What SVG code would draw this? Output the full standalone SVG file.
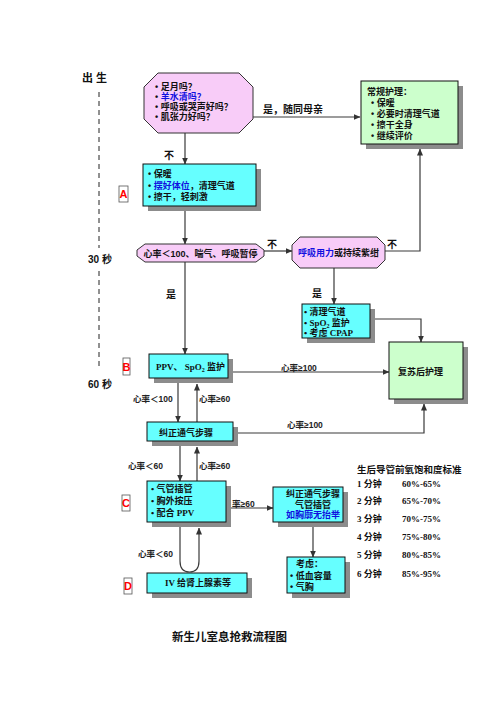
<svg xmlns="http://www.w3.org/2000/svg" width="496" height="702" viewBox="0 0 496 702">
<defs>
<marker id="ah" markerUnits="userSpaceOnUse" markerWidth="7" markerHeight="6" refX="6.5" refY="3" orient="auto">
<path d="M0,0 L7,3 L0,6 Z" fill="#333"/>
</marker>
<style>
.t{font-family:"Liberation Sans","Noto Sans CJK SC",sans-serif;font-weight:bold;font-size:9px;fill:#111}
.s{font-family:"Liberation Serif","Noto Sans CJK SC",serif;font-weight:bold;font-size:9px;fill:#111}
.l{font-family:"Liberation Sans","Noto Sans CJK SC",sans-serif;font-weight:bold;font-size:8.5px;fill:#222}
.blue{fill:#1010E0}
.sh{fill:#8c8c8c}
.cy{fill:#66FFFF;stroke:#111;stroke-width:1}
.gr{fill:#CCFFCC;stroke:#111;stroke-width:1}
.pk{fill:#F8CCF8;stroke:#333;stroke-width:1;stroke-linejoin:round}
.ln{fill:none;stroke:#3a3a3a;stroke-width:1.2}
.lb{fill:#fff;stroke:#555;stroke-width:0.8}
.lt{font-family:"Liberation Sans",sans-serif;font-weight:bold;font-size:11px;fill:#FF0000}
</style>
</defs>
<rect width="496" height="702" fill="#fff"/>

<!-- timeline -->
<g id="timeline">
<text x="82" y="82" class="t" style="font-size:11px">出 生</text>
<line x1="99" y1="92" x2="99" y2="248" stroke="#222" stroke-width="1" stroke-dasharray="5,4"/>
<text x="88" y="263" class="t" style="font-size:10px">30 秒</text>
<line x1="99" y1="271" x2="99" y2="366" stroke="#222" stroke-width="1" stroke-dasharray="5,4"/>
<text x="88" y="388" class="t" style="font-size:10px">60 秒</text>
</g>

<g id="labels">
<rect x="119" y="186" width="9" height="16" class="lb"/><text x="123.5" y="198" class="lt" text-anchor="middle">A</text>
<rect x="123" y="358" width="7" height="17" class="lb"/><text x="126.5" y="370.5" class="lt" text-anchor="middle">B</text>
<rect x="122" y="495" width="8" height="16" class="lb"/><text x="126" y="507" class="lt" text-anchor="middle">C</text>
<rect x="124" y="578" width="8" height="16" class="lb"/><text x="128" y="590" class="lt" text-anchor="middle">D</text>
</g>

<!-- connectors -->
<g id="connectors">
<path class="ln" d="M185,133 V164" marker-end="url(#ah)"/>
<path class="ln" d="M253,117 H360" marker-end="url(#ah)"/>
<path class="ln" d="M185,211 V244" marker-end="url(#ah)"/>
<path class="ln" d="M185,262 V354" marker-end="url(#ah)"/>
<path class="ln" d="M264,251 H292" marker-end="url(#ah)"/>
<path class="ln" d="M385,251 H420 V149" marker-end="url(#ah)"/>
<path class="ln" d="M334,268 V304" marker-end="url(#ah)"/>
<path class="ln" d="M373,319 H421 V342" marker-end="url(#ah)"/>
<path class="ln" d="M233,372 H389" marker-end="url(#ah)"/>
<path class="ln" d="M178,383 V422" marker-end="url(#ah)"/>
<path class="ln" d="M197,422 V384" marker-end="url(#ah)"/>
<path class="ln" d="M238,433 H424 V404" marker-end="url(#ah)"/>
<path class="ln" d="M180,446 V481" marker-end="url(#ah)"/>
<path class="ln" d="M197,481 V447" marker-end="url(#ah)"/>
<path class="ln" d="M231,508 H273" marker-end="url(#ah)"/>
<path class="ln" d="M313,527 V557" marker-end="url(#ah)"/>
<path class="ln" d="M180,527 V561 Q180,572 189.5,572 Q199,572 199,561 V528" marker-end="url(#ah)"/>
<text x="263" y="113" class="t" style="font-size:10px">是，随同母亲</text>
<text x="164" y="159" class="t" style="font-size:10px">不</text>
<text x="267" y="248" class="t" style="font-size:10px">不</text>
<text x="387" y="248" class="t" style="font-size:10px">不</text>
<text x="166" y="298" class="t" style="font-size:10px">是</text>
<text x="312" y="297" class="t" style="font-size:10px">是</text>
<text x="281" y="371" class="l">心率≥100</text>
<text x="133" y="402" class="l">心率＜100</text>
<text x="199" y="402" class="l">心率≥60</text>
<text x="287" y="428" class="l">心率≥100</text>
<text x="128" y="469" class="l">心率＜60</text>
<text x="199" y="469" class="l">心率≥60</text>
<text x="232" y="507" class="l">率≥60</text>
<text x="138" y="557" class="l">心率＜60</text>
</g>

<g id="assess">
<path class="pk" d="M158,73 H239 L253,87 V119 L239,133 H158 L144,119 V87 Z"/>
<text x="155" y="89.5" class="t">• 足月吗？</text>
<text x="155" y="99.8" class="t">• <tspan class="blue">羊水清吗？</tspan></text>
<text x="155" y="110.1" class="t">• 呼吸或哭声好吗？</text>
<text x="155" y="120.4" class="t">• 肌张力好吗？</text>
</g>

<g id="routine">
<rect x="366" y="86" width="97" height="63" class="sh"/>
<rect x="361" y="81" width="97" height="63" class="gr"/>
<text x="367" y="94.5" class="t">常规护理：</text>
<text x="371" y="105.5" class="t">• 保暖</text>
<text x="371" y="116.5" class="t">• 必要时清理气道</text>
<text x="371" y="127.5" class="t">• 擦干全身</text>
<text x="371" y="139" class="t">• 继续评价</text>
</g>

<g id="stepA">
<rect x="148" y="169" width="113" height="42" class="sh"/>
<rect x="143" y="164" width="113" height="42" class="cy"/>
<text x="148" y="176.5" class="t">• 保暖</text>
<text x="148" y="188.5" class="t">• <tspan class="blue">摆好体位</tspan>，清理气道</text>
<text x="148" y="199.5" class="t">• 擦干，轻刺激</text>
</g>

<g id="hr100">
<path class="pk" d="M145,244 H256 L264,250 V256 L256,262 H145 L137,256 V250 Z"/>
<text x="200.5" y="256.5" class="t" text-anchor="middle">心率＜100、喘气、呼吸暂停</text>
</g>

<g id="laboured">
<path class="pk" d="M300,237 H377 L385,245 V260 L377,268 H300 L292,260 V245 Z"/>
<text x="338.5" y="256" class="t" text-anchor="middle"><tspan class="blue">呼吸用力</tspan>或持续紫绀</text>
</g>

<g id="cpap">
<rect x="307" y="309" width="68" height="34" class="sh"/>
<rect x="302" y="304" width="68" height="34" class="cy"/>
<text x="304" y="315" class="s">• 清理气道</text>
<text x="304" y="325.5" class="s">• SpO<tspan font-size="6" dy="2">2</tspan><tspan dy="-2"> 监护</tspan></text>
<text x="304" y="335.5" class="s">• 考虑 CPAP</text>
</g>

<g id="stepB">
<rect x="154" y="359" width="79" height="24" class="sh"/>
<rect x="149" y="354" width="79" height="24" class="cy"/>
<text x="156" y="369.5" class="s">PPV、 SpO<tspan font-size="6" dy="2">2</tspan><tspan dy="-2"> 监护</tspan></text>
</g>

<g id="postcare">
<rect x="394" y="347" width="74" height="57" class="sh"/>
<rect x="389" y="342" width="74" height="57" class="gr"/>
<text x="398" y="374.5" class="t">复苏后护理</text>
</g>

<g id="correct">
<rect x="152" y="427" width="86" height="19" class="sh"/>
<rect x="147" y="422" width="86" height="19" class="cy"/>
<text x="186" y="435.5" class="t" text-anchor="middle">纠正通气步骤</text>
</g>

<g id="stepC">
<rect x="152" y="486" width="79" height="41" class="sh"/>
<rect x="147" y="481" width="79" height="41" class="cy"/>
<text x="151" y="491.5" class="s">• 气管插管</text>
<text x="151" y="503.5" class="s">• 胸外按压</text>
<text x="151" y="516" class="s">• 配合 PPV</text>
</g>

<g id="correct2">
<rect x="278" y="492" width="70" height="35" class="sh"/>
<rect x="273" y="487" width="70" height="35" class="cy"/>
<text x="313" y="496.5" class="t" text-anchor="middle">纠正通气步骤</text>
<text x="313" y="507.5" class="t" text-anchor="middle">气管插管</text>
<text x="313" y="518" class="t blue" text-anchor="middle">如胸廓无抬举</text>
</g>

<g id="consider">
<rect x="292" y="562" width="58" height="36" class="sh"/>
<rect x="287" y="557" width="58" height="36" class="cy"/>
<text x="296" y="566.5" class="t">考虑：</text>
<text x="290" y="578.5" class="t">• 低血容量</text>
<text x="290" y="590" class="t">• 气胸</text>
</g>

<g id="stepD">
<rect x="152" y="578" width="100" height="20" class="sh"/>
<rect x="147" y="573" width="100" height="20" class="cy"/>
<text x="198" y="586" class="s" text-anchor="middle">IV 给肾上腺素等</text>
</g>

<g id="spo2table">
<text x="357" y="472.5" class="t" style="font-size:9.5px">生后导管前氧饱和度标准</text>
<text x="357" y="486.5" class="s">1 分钟</text><text x="402" y="486.5" class="s">60%-65%</text>
<text x="357" y="503.5" class="s">2 分钟</text><text x="402" y="503.5" class="s">65%-70%</text>
<text x="357" y="521.5" class="s">3 分钟</text><text x="402" y="521.5" class="s">70%-75%</text>
<text x="357" y="539.5" class="s">4 分钟</text><text x="402" y="539.5" class="s">75%-80%</text>
<text x="357" y="557.5" class="s">5 分钟</text><text x="402" y="557.5" class="s">80%-85%</text>
<text x="357" y="576.5" class="s">6 分钟</text><text x="402" y="576.5" class="s">85%-95%</text>
</g>

<text x="172" y="641" class="t" style="font-size:11.5px">新生儿室息抢救流程图</text>
</svg>
